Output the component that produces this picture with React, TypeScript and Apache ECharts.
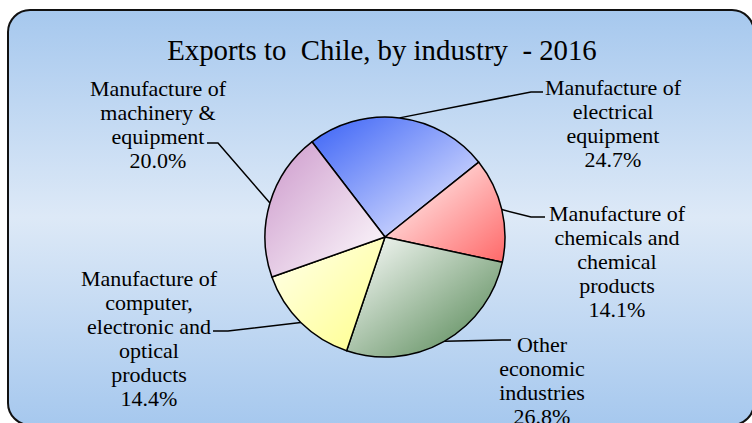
import React, { useEffect, useRef } from "react";
import * as echarts from "echarts";

const titleText = "Exports to  Chile, by industry  - 2016";
const categories = [
  "Manufacture of\nelectrical\nequipment",
  "Manufacture of\nchemicals and\nchemical\nproducts",
  "Other\neconomic\nindustries",
  "Manufacture of\ncomputer,\nelectronic and\noptical\nproducts",
  "Manufacture of\nmachinery &\nequipment",
];
const shares = [24.7, 14.1, 26.8, 14.4, 20.0];

// slice gradient colours (top-left -> bottom-right)
const sliceColors = [
  ["#3a62f6", "#f2f2ff"],
  ["#ffffff", "#ff6868"],
  ["#ffffff", "#4d824d"],
  ["#ffffee", "#ffff8a"],
  ["#cc98cb", "#ffffff"],
];

// label layout: centre of label block, elbow and end of leader line
const labelLayouts = [
  { x: 613, y: 123, elbow: [531, 92], end: [543, 92] },
  { x: 617, y: 261, elbow: [531, 217], end: [545, 217] },
  { x: 542, y: 380, elbow: [502, 340], end: [511, 340] },
  { x: 149, y: 338, elbow: [228, 331], end: [213, 331] },
  { x: 158, y: 124, elbow: [218, 143], end: [207, 143] },
];

const FONT = "Liberation Serif";

export default function App() {
  const ref = useRef<HTMLDivElement>(null);
  useEffect(() => {
    if (!ref.current) return;
    const chart = echarts.init(ref.current, undefined, { renderer: "svg" });
    const cx = 385;
    const cy = 237;
    const r = 120;
    const startAngle = 127.5;
    const total = shares.reduce((a, b) => a + b, 0);
    const labelFont = {
      fontFamily: FONT,
      fontStyle: "normal",
      fontWeight: "normal",
      fontSize: 22,
      lineHeight: 24,
      color: "#000000",
    };
    chart.setOption({
      animation: false,
      backgroundColor: "#ffffff",
      textStyle: { fontFamily: FONT },
      graphic: [
        {
          type: "rect",
          z: -10,
          silent: true,
          shape: { x: 8, y: 10, width: 746, height: 415, r: 22 },
          style: {
            fill: new echarts.graphic.LinearGradient(0, 0, 0, 1, [
              { offset: 0, color: "#a6c8ee" },
              { offset: 0.5, color: "#dde9f7" },
              { offset: 1, color: "#a6c8ee" },
            ]),
            stroke: "#111111",
            lineWidth: 2,
          },
        },
      ],
      title: {
        text: titleText,
        left: 377,
        textAlign: "center",
        top: 30,
        textStyle: {
          fontFamily: FONT,
          fontSize: 28.8,
          fontWeight: "normal",
          color: "#000000",
        },
      },
      series: [
        {
          type: "pie",
          center: [cx, cy],
          radius: r,
          startAngle,
          clockwise: true,
          avoidLabelOverlap: false,
          emphasis: { disabled: true },
          data: categories.map((name, i) => ({
            name,
            value: shares[i],
            itemStyle: {
              color: new echarts.graphic.LinearGradient(0, 0, 1, 1, [
                { offset: 0, color: sliceColors[i][0] },
                { offset: 1, color: sliceColors[i][1] },
              ]),
              borderColor: "#000000",
              borderWidth: 1.5,
            },
          })),
          label: {
            show: true,
            position: "outside",
            ...labelFont,
            formatter: (p: any) => `${p.name}\n${p.value.toFixed(1)}%`,
          },
          labelLine: {
            show: true,
            length: 10,
            length2: 10,
            smooth: false,
            lineStyle: { color: "#000000", width: 1.5 },
          },
          labelLayout: (params: any) => {
            const i = params.dataIndex;
            const L = labelLayouts[i];
            let start = params.labelLinePoints && params.labelLinePoints[0];
            if (!start) {
              let acc = 0;
              for (let k = 0; k < i; k++) acc += shares[k];
              const mid = startAngle - ((acc + shares[i] / 2) / total) * 360;
              const rad = (mid * Math.PI) / 180;
              start = [cx + r * Math.cos(rad), cy - r * Math.sin(rad)];
            }
            return {
              x: L.x,
              y: L.y,
              align: "center",
              verticalAlign: "middle",
              labelLinePoints: [start, L.elbow, L.end],
            };
          },
        },
      ],
    });
    return () => chart.dispose();
  }, []);
  return (
    <div
      ref={ref}
      style={{ position: "fixed", left: 0, top: 0, width: 752, height: 423 }}
    />
  );
}
